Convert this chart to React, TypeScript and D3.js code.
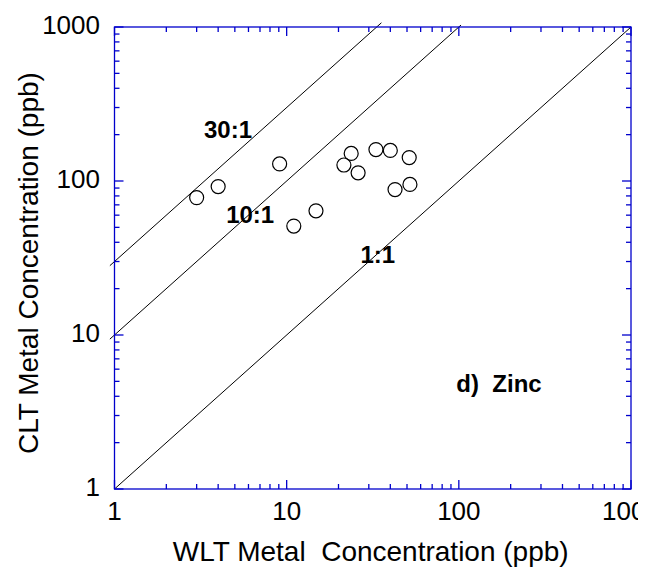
import React, { useEffect, useRef } from "react";
import * as d3 from "d3";

// WLT vs CLT zinc concentrations (ppb)
const wltZinc = [3.0, 4.0, 9.1, 11, 14.8, 21.5, 23.7, 26, 33, 40, 51.5, 42.6, 52];
const cltZinc = [78, 92, 129, 51, 64, 127, 151, 113, 160, 158, 142, 88, 95];

// reference ratio lines (CLT = ratio * WLT)
const ratioValues = [1, 10, 30];
const ratioLabels = ["1:1", "10:1", "30:1"];
const ratioStart = [1, 0.94, 0.94];
const ratioEnd = [1000, 103, 35.5];
const ratioLabelX = [26.8, 4.45, 3.31];
const ratioLabelY = [29.3, 53.4, 190];

const tickValues = [1, 10, 100, 1000];
const tickLabels = ["1", "10", "100", "1000"];

const panelLabel = "d)  Zinc";
const panelLabelAt = [96.7, 4.27];

const xTitle = "WLT Metal  Concentration (ppb)";
const yTitle = "CLT Metal Concentration (ppb)";

export default function App() {
  const ref = useRef<SVGSVGElement>(null);

  useEffect(() => {
    const width = 655;
    const height = 576;
    const left = 114.5;
    const right = 631;
    const top = 27;
    const bottom = 489;
    const font = "'Liberation Sans', Arial, Helvetica, sans-serif";
    const axisColor = "#0000cc";

    const svg = d3.select(ref.current);
    svg.selectAll("*").remove();
    svg.attr("width", width).attr("height", height);

    // the source figure was cropped just right of the frame
    svg
      .append("defs")
      .append("clipPath")
      .attr("id", "crop")
      .append("rect")
      .attr("x", 0)
      .attr("y", 0)
      .attr("width", 638)
      .attr("height", height);

    const x = d3.scaleLog().domain([1, 1000]).range([left, right]);
    const y = d3.scaleLog().domain([1, 1000]).range([bottom, top]);

    // all ticks, minor ones included
    const allTicks: number[] = [];
    for (let dec = 1; dec < 1000; dec *= 10) {
      for (let k = 1; k < 10; k++) allTicks.push(dec * k);
    }
    allTicks.push(1000);
    const isMajor = (v: number) => tickValues.includes(v);
    const major = 9;
    const minor = 5;

    // ratio lines
    const line = d3
      .line<number[]>()
      .x((d) => x(d[0]))
      .y((d) => y(d[1]));
    ratioValues.forEach((r, i) => {
      svg
        .append("path")
        .attr("d", line([[ratioStart[i], ratioStart[i] * r], [ratioEnd[i], ratioEnd[i] * r]]))
        .attr("fill", "none")
        .attr("stroke", "#000")
        .attr("stroke-width", 1);
    });

    // frame
    const g = svg.append("g").attr("stroke", axisColor).attr("stroke-width", 1.3);
    g.append("rect")
      .attr("x", left)
      .attr("y", top)
      .attr("width", right - left)
      .attr("height", bottom - top)
      .attr("fill", "none");

    allTicks.forEach((v) => {
      const len = isMajor(v) ? major : minor;
      const px = x(v);
      const py = y(v);
      g.append("line").attr("x1", px).attr("x2", px).attr("y1", bottom).attr("y2", bottom - len);
      g.append("line").attr("x1", px).attr("x2", px).attr("y1", top).attr("y2", top + len);
      g.append("line").attr("x1", left).attr("x2", left + len).attr("y1", py).attr("y2", py);
      g.append("line").attr("x1", right).attr("x2", right - len).attr("y1", py).attr("y2", py);
    });

    // tick labels
    svg
      .append("g")
      .attr("clip-path", "url(#crop)")
      .selectAll("text")
      .data(tickValues)
      .enter()
      .append("text")
      .attr("x", (d) => x(d))
      .attr("y", bottom + 31)
      .attr("text-anchor", "middle")
      .style("font-family", font)
      .style("font-size", "26px")
      .text((_, i) => tickLabels[i]);

    svg
      .append("g")
      .selectAll("text")
      .data(tickValues)
      .enter()
      .append("text")
      .attr("x", left - 14.5)
      .attr("y", (d) => y(d) + 6.5)
      .attr("text-anchor", "end")
      .style("font-family", font)
      .style("font-size", "26px")
      .text((_, i) => tickLabels[i]);

    // axis titles
    svg
      .append("text")
      .attr("x", (left + right) / 2 - 2)
      .attr("y", 561)
      .attr("text-anchor", "middle")
      .style("font-family", font)
      .style("font-size", "28px")
      .style("white-space", "pre")
      .text(xTitle);

    svg
      .append("text")
      .attr("transform", `translate(38, ${(top + bottom) / 2 + 5}) rotate(-90)`)
      .attr("text-anchor", "middle")
      .style("font-family", font)
      .style("font-size", "28px")
      .text(yTitle);

    // points
    svg
      .append("g")
      .selectAll("circle")
      .data(wltZinc)
      .enter()
      .append("circle")
      .attr("cx", (d) => x(d))
      .attr("cy", (_, i) => y(cltZinc[i]))
      .attr("r", 7)
      .attr("fill", "none")
      .attr("stroke", "#000")
      .attr("stroke-width", 1.2);

    // ratio labels
    ratioLabels.forEach((lab, i) => {
      svg
        .append("text")
        .attr("x", x(ratioLabelX[i]))
        .attr("y", y(ratioLabelY[i]))
        .style("font-family", font)
        .style("font-size", "24px")
        .style("font-weight", "bold")
        .text(lab);
    });

    svg
      .append("text")
      .attr("x", x(panelLabelAt[0]))
      .attr("y", y(panelLabelAt[1]))
      .style("font-family", font)
      .style("font-size", "24px")
      .style("font-weight", "bold")
      .style("white-space", "pre")
      .text(panelLabel);
  }, []);

  return (
    <svg
      ref={ref}
      style={{ position: "absolute", left: 0, top: 0, background: "#fff" }}
    />
  );
}
